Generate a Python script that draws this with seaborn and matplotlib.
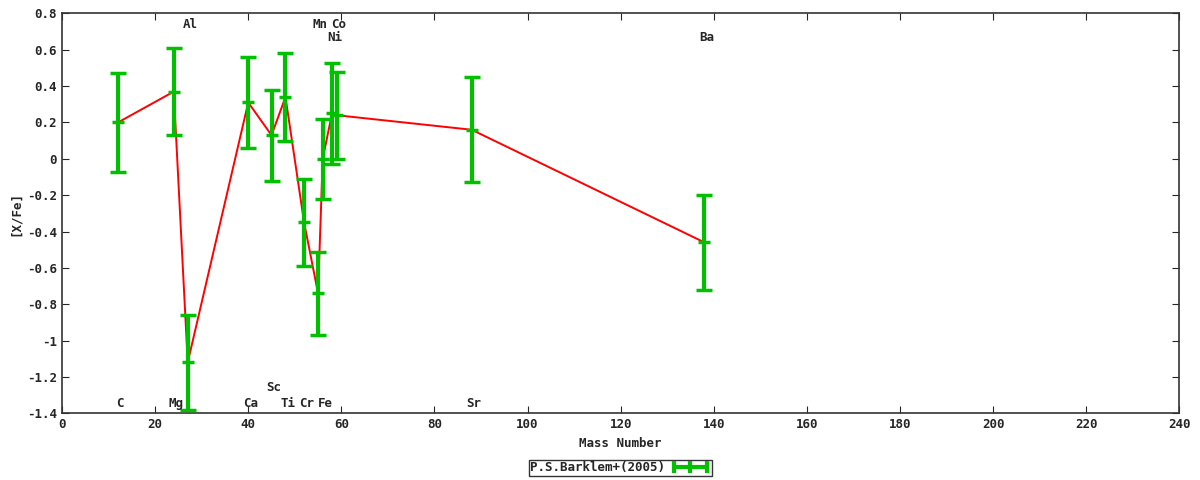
import matplotlib
matplotlib.use('Agg')
import matplotlib.pyplot as plt
from matplotlib.lines import Line2D
from matplotlib.ticker import MultipleLocator, FuncFormatter
import pandas as pd
import seaborn as sns

elements = ['C', 'Mg', 'Al', 'Ca', 'Sc', 'Ti', 'Cr', 'Mn', 'Fe', 'Ni', 'Co', 'Sr', 'Ba']
mass = [12, 24, 27, 40, 45, 48, 52, 55, 56, 58, 59, 88, 138]
xfe = [0.20, 0.37, -1.12, 0.31, 0.13, 0.34, -0.35, -0.74, 0.00, 0.25, 0.24, 0.16, -0.46]
xfe_err = [0.27, 0.24, 0.26, 0.25, 0.25, 0.24, 0.24, 0.23, 0.22, 0.28, 0.24, 0.29, 0.26]
# where gnuplot put each element name
label_y = [-1.345, -1.345, 0.739, -1.345, -1.257, -1.345, -1.345, 0.739, -1.345, 0.667, 0.739, -1.345, 0.667]
source = 'P.S.Barklem+(2005)'

df = pd.DataFrame({'mass': mass, 'xfe': xfe, 'err': xfe_err, 'el': elements})

sns.set_style('ticks')
plt.rcParams['font.family'] = ['DejaVu Sans Mono', 'DejaVu Sans']
plt.rcParams['font.weight'] = 'bold'
plt.rcParams['axes.unicode_minus'] = False

fig = plt.figure(figsize=(12, 4.8), dpi=100)
ax = fig.add_axes([0.0517, 0.139, 0.931, 0.833])

sns.lineplot(data=df, x='mass', y='xfe', color='#ff0000', lw=1.4,
             estimator=None, sort=True, ax=ax, legend=False)
ax.errorbar(df['mass'], df['xfe'], yerr=df['err'], fmt='none', ecolor='#00c000',
            elinewidth=3, capsize=5.5, capthick=2.5, zorder=3)
# small centre tick on each bar
ax.plot(df['mass'], df['xfe'], ls='none', marker='_', ms=9, mew=2.5, color='#00c000', zorder=3)

for el, m, ly in zip(elements, mass, label_y):
    ax.text(m + 0.5, ly, el, ha='center', va='center', fontsize=9, fontweight='bold')

ax.set_xlim(0, 240)
ax.set_ylim(-1.4, 0.8)
ax.xaxis.set_major_locator(MultipleLocator(20))
ax.yaxis.set_major_locator(MultipleLocator(0.2))
ax.yaxis.set_major_formatter(FuncFormatter(lambda v, p: f'{round(v, 1):g}'))
ax.tick_params(direction='in', top=True, right=True, length=5, labelsize=9)
for s in ax.spines.values():
    s.set_linewidth(1.2)
    s.set_color('#333333')
ax.set_xlabel('Mass Number', fontsize=9, fontweight='bold')
ax.set_ylabel('[X/Fe]', fontsize=9, fontweight='bold')

handle = Line2D([], [], color='#00c000', lw=3, marker='|', ms=9, mew=3)
leg = fig.legend([handle], [source], loc='center', bbox_to_anchor=(0.517, 0.025),
                 numpoints=3, handlelength=3.2, fontsize=9, frameon=True,
                 fancybox=False, edgecolor='black', borderpad=0.1, handletextpad=0.4,
                 markerfirst=False)
leg.get_frame().set_linewidth(1)

fig.savefig('out.png', dpi=100)
